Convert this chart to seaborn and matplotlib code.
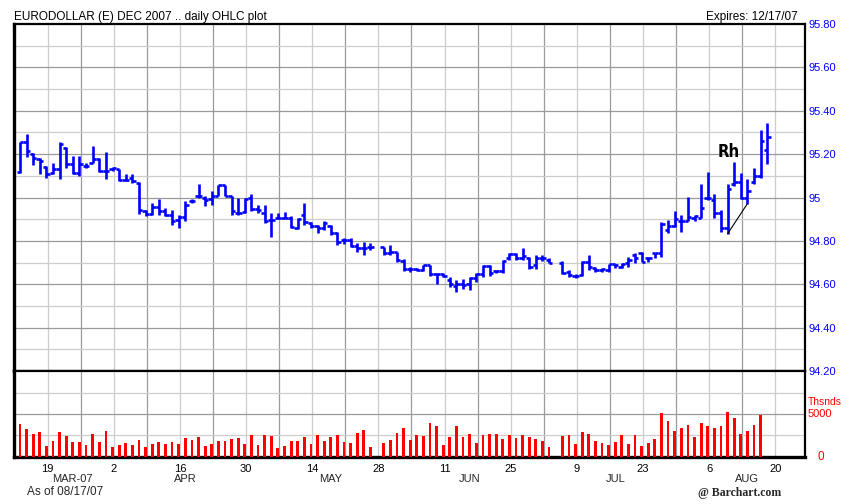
import numpy as np
import pandas as pd
import matplotlib
matplotlib.use("Agg")
import matplotlib.pyplot as plt
import seaborn as sns

# ---------------- data ----------------
first_day = "2007-03-13"
last_day = "2007-08-17"
holidays = ["2007-05-28", "2007-07-04"]
calendar_start = "2007-03-12"
calendar_end = "2007-08-31"

opens = [95.118, 95.255, 95.200, 95.177, 95.141, 95.115, 95.130, 95.228, 95.153, 95.112,
         95.146, 95.161, 95.177, 95.122, 95.130, 95.130, 95.079, 95.091, 95.068, 94.936,
         94.924, 94.957, 94.936, 94.921, 94.898, 94.910, 94.983, 95.006, 94.998, 94.991,
         95.006, 95.057, 95.006, 94.929, 94.932, 94.998, 94.947, 94.929, 94.898, 94.905,
         94.905, 94.905, 94.859, 94.921, 94.882, 94.867, 94.859, 94.870, 94.836, 94.805,
         94.805, 94.777, 94.766, 94.774,
         94.771, 94.743, 94.750, 94.709, 94.671, 94.671, 94.668, 94.688, 94.648, 94.645,
         94.620, 94.590, 94.600, 94.600, 94.630, 94.645, 94.683, 94.660, 94.660, 94.720,
         94.740, 94.720, 94.720, 94.690, 94.720, 94.710,
         94.700, 94.657, 94.636, 94.642, 94.703, 94.673, 94.665, 94.665, 94.692, 94.681,
         94.696, 94.735, 94.743, 94.719, 94.743, 94.743, 94.850, 94.870, 94.890, 94.890,
         94.905, 94.905, 95.000, 94.990, 94.930, 94.860, 95.060, 95.070, 95.000, 95.070,
         95.100, 95.220]
highs = [95.257, 95.293, 95.203, 95.184, 95.146, 95.158, 95.254, 95.231, 95.192, 95.192,
         95.161, 95.239, 95.180, 95.208, 95.141, 95.130, 95.107, 95.107, 95.071, 94.944,
         94.975, 94.991, 94.952, 94.944, 94.921, 94.983, 94.991, 95.060, 95.006, 95.029,
         95.057, 95.057, 95.006, 94.998, 94.998, 95.014, 94.967, 94.967, 94.929, 94.929,
         94.932, 94.913, 94.905, 94.975, 94.885, 94.874, 94.890, 94.874, 94.843, 94.812,
         94.812, 94.792, 94.797, 94.789,
         94.771, 94.781, 94.750, 94.715, 94.680, 94.675, 94.688, 94.688, 94.650, 94.650,
         94.634, 94.619, 94.622, 94.634, 94.650, 94.688, 94.688, 94.665, 94.712, 94.743,
         94.743, 94.766, 94.727, 94.735, 94.735, 94.720,
         94.707, 94.665, 94.649, 94.707, 94.735, 94.681, 94.676, 94.692, 94.692, 94.696,
         94.727, 94.742, 94.750, 94.727, 94.743, 94.885, 94.898, 94.940, 94.920, 95.003,
         94.920, 95.060, 95.118, 95.014, 94.944, 95.060, 95.164, 95.115, 95.084, 95.137,
         95.313, 95.344]
lows = [95.115, 95.189, 95.149, 95.107, 95.091, 95.107, 95.087, 95.138, 95.107, 95.099,
        95.138, 95.161, 95.118, 95.084, 95.122, 95.076, 95.076, 95.068, 94.924, 94.913,
        94.921, 94.921, 94.913, 94.874, 94.859, 94.890, 94.975, 94.998, 94.963, 94.967,
        95.006, 95.006, 94.921, 94.921, 94.929, 94.936, 94.929, 94.882, 94.820, 94.901,
        94.905, 94.859, 94.854, 94.874, 94.859, 94.836, 94.851, 94.828, 94.781, 94.786,
        94.774, 94.750, 94.735, 94.758,
        94.735, 94.735, 94.704, 94.660, 94.657, 94.660, 94.660, 94.640, 94.600, 94.634,
        94.588, 94.564, 94.580, 94.572, 94.610, 94.634, 94.640, 94.650, 94.650, 94.712,
        94.712, 94.712, 94.672, 94.672, 94.705, 94.700,
        94.645, 94.634, 94.628, 94.639, 94.665, 94.657, 94.657, 94.657, 94.673, 94.673,
        94.681, 94.696, 94.704, 94.704, 94.719, 94.727, 94.836, 94.864, 94.843, 94.890,
        94.890, 94.905, 94.988, 94.905, 94.843, 94.833, 95.053, 94.995, 94.972, 95.060,
        95.091, 95.153]
closes = [95.255, 95.216, 95.180, 95.169, 95.110, 95.130, 95.246, 95.153, 95.115, 95.153,
          95.146, 95.177, 95.122, 95.122, 95.138, 95.079, 95.079, 95.076, 94.944, 94.924,
          94.957, 94.936, 94.921, 94.890, 94.910, 94.967, 94.983, 95.006, 94.988, 95.006,
          95.057, 95.006, 94.936, 94.929, 94.994, 94.947, 94.944, 94.890, 94.898, 94.905,
          94.905, 94.864, 94.901, 94.885, 94.870, 94.859, 94.882, 94.836, 94.797, 94.805,
          94.777, 94.766, 94.766, 94.774,
          94.743, 94.750, 94.712, 94.671, 94.671, 94.668, 94.688, 94.648, 94.645, 94.638,
          94.600, 94.600, 94.595, 94.630, 94.645, 94.683, 94.650, 94.660, 94.705, 94.740,
          94.720, 94.730, 94.680, 94.720, 94.720, 94.700,
          94.650, 94.642, 94.640, 94.703, 94.678, 94.665, 94.670, 94.692, 94.688, 94.692,
          94.712, 94.719, 94.704, 94.719, 94.743, 94.880, 94.870, 94.900, 94.890, 94.910,
          94.915, 94.950, 95.000, 94.930, 94.860, 95.040, 95.070, 95.000, 95.030, 95.100,
          95.260, 95.280]
# volume (last session not yet reported)
volumes = [3850, 3260, 2670, 2910, 1260, 1850, 2910, 2440, 1730, 1730,
           1380, 2670, 1730, 3030, 1140, 1380, 1610, 1380, 1970, 1140,
           1490, 1730, 1490, 1730, 1490, 2200, 1970, 2320, 1260, 1490,
           1850, 1850, 2080, 2200, 1490, 2560, 1380, 2560, 2440, 1020,
           1260, 1850, 1850, 2320, 1490, 2560, 1850, 2320, 2560, 1730,
           1610, 2790, 3140, 1140,
           1610, 1970, 2790, 3380, 1970, 2560, 2440, 3970, 3620, 1380,
           2320, 3620, 2320, 2670, 1610, 2560, 2670, 2670, 2080, 2560,
           2200, 2560, 2320, 2080, 1850, 1140,
           2440, 2560, 1490, 2910, 2670, 1850, 1610, 1380, 1730, 2560,
           1490, 2560, 1260, 1610, 2080, 5150, 4200, 3030, 3380, 3730,
           2320, 3970, 3620, 3380, 3620, 5270, 4560, 2670, 3030, 3730,
           4910, np.nan]

price_ticks = [94.2, 94.4, 94.6, 94.8, 95.0, 95.2, 95.4, 95.6, 95.8]
price_tick_labels = ["94.20", "94.40", "94.60", "94.80", "95", "95.20", "95.40", "95.60", "95.80"]
day_tick_dates = ["2007-03-19", "2007-04-02", "2007-04-16", "2007-04-30", "2007-05-14",
                  "2007-05-28", "2007-06-11", "2007-06-25", "2007-07-09", "2007-07-23",
                  "2007-08-06", "2007-08-20"]
day_labels = ["19", "2", "16", "30", "14", "28", "11", "25", "9", "23", "6", "20"]
month_labels = ["MAR-07", "APR", "MAY", "JUN", "JUL", "AUG"]
month_label_dates = ["2007-03-23", "2007-04-17", "2007-05-17", "2007-06-15", "2007-07-17", "2007-08-14"]
trend_dates = ["2007-08-09", "2007-08-14"]

# ---------------- positions on a weekday axis ----------------
calendar = pd.bdate_range(calendar_start, calendar_end)
slot = pd.Series(np.arange(len(calendar), dtype=float), index=calendar)
days = pd.bdate_range(first_day, last_day)
days = days[~days.isin(pd.to_datetime(holidays))]
x = slot.loc[days].to_numpy()
o, h, l, c = map(np.asarray, (opens, highs, lows, closes))
v = np.asarray(volumes, dtype=float)

mondays = calendar[(calendar.weekday == 0) & (calendar >= pd.Timestamp("2007-03-19"))]
labeled = pd.to_datetime(day_tick_dates)
unlabeled = mondays[~mondays.isin(labeled)]

# ---------------- style ----------------
sns.set_style("white")
plt.rcParams["font.family"] = ["Liberation Sans", "DejaVu Sans"]

W, H = 864, 504
fig = plt.figure(figsize=(W / 100, H / 100), dpi=100, facecolor="white")
L, R = 14, 805
ax = fig.add_axes([L / W, 1 - 371 / H, (R - L) / W, 347 / H])
axv = fig.add_axes([L / W, 1 - 456.7 / H, (R - L) / W, 85.7 / H])

XMIN, XMAX = 0.1, 119.7
DARK, LIGHT = "#9a9a9a", "#cdcdcd"
BLUE, RED = "#0000ff", "#ff0000"

for a in (ax, axv):
    a.set_facecolor("white")
    a.set_xlim(XMIN, XMAX)
    for d in labeled:
        a.axvline(slot[d] + 0.2, color=LIGHT, lw=0.9, zorder=0)
    for d in unlabeled:
        a.axvline(slot[d] + 0.2, color=DARK, lw=0.9, zorder=0)
    for s in a.spines.values():
        s.set_visible(True)
        s.set_color("black")
    a.spines["left"].set_linewidth(2.4)
    a.spines["right"].set_linewidth(1.6)
    a.spines["top"].set_linewidth(1.6)
    a.spines["bottom"].set_linewidth(1.6)
axv.spines["bottom"].set_linewidth(2.4)

# price grid
for k, g in enumerate(np.round(np.arange(94.3, 95.75, 0.1), 2)):
    ax.axhline(g, color=DARK if k % 2 == 1 else LIGHT, lw=0.9, zorder=0)
ax.set_ylim(94.2, 95.8)

# OHLC bars
tick = 0.5
LW = 1.9
ax.vlines(x, l, h, color=BLUE, lw=LW, capstyle="butt", zorder=3)
ax.hlines(o, x - tick, x, color=BLUE, lw=LW, capstyle="butt", zorder=3)
ax.hlines(c, x, x + tick, color=BLUE, lw=LW, capstyle="butt", zorder=3)

# trend line between two lows
t_idx = [int(np.where(days == pd.Timestamp(d))[0][0]) for d in trend_dates]
ax.plot(x[t_idx], l[t_idx], color="black", lw=0.8, zorder=4)
ax.text(slot[pd.Timestamp(trend_dates[0])] + 0.1, 95.212, "Rh", ha="center", va="center",
        fontsize=12, fontweight="bold", family=["DejaVu Sans"], fontstretch="condensed",
        color="black", zorder=5)

ax.set_yticks(price_ticks)
ax.set_yticklabels(price_tick_labels)
ax.yaxis.tick_right()
ax.tick_params(axis="y", which="both", length=0, pad=2.5, labelsize=8, labelcolor=BLUE,
               right=True, left=False, labelright=True, labelleft=False)
ax.set_xticks([])
ax.set_xlabel("")
ax.set_ylabel("")

# volume
for k, g in enumerate([2500, 5000, 7500]):
    axv.axhline(g, color=DARK if g == 5000 else LIGHT, lw=0.9, zorder=0)
mask = ~np.isnan(v)
sns.barplot(x=x[mask], y=v[mask], native_scale=True, width=0.42, color=RED,
            saturation=1, errorbar=None, linewidth=0, ax=axv, zorder=3)
axv.set_xlim(XMIN, XMAX)
axv.set_ylim(0, 10100)
axv.set_yticks([])
axv.set_ylabel("")
axv.set_xlabel("")
axv.set_xticks([slot[d] + 0.2 for d in labeled])
axv.set_xticklabels(day_labels)
axv.tick_params(axis="x", length=0, pad=5, labelsize=8, labelcolor="black")

yfx = axv.get_yaxis_transform()
axv.annotate("5000", xy=(1, 5000), xycoords=yfx, xytext=(3, 0), textcoords="offset pixels",
             ha="left", va="center", color=RED, fontsize=8, annotation_clip=False)
axv.annotate("0", xy=(1, 0), xycoords=yfx, xytext=(15.5, 0), textcoords="offset pixels",
             ha="center", va="center", color=RED, fontsize=8.5, annotation_clip=False)
axv.annotate("Thsnds", xy=(1, 5000), xycoords=yfx, xytext=(3, 12), textcoords="offset pixels",
             ha="left", va="center", color=RED, fontsize=7.5, annotation_clip=False)

xfx = axv.get_xaxis_transform()
for lab, d in zip(month_labels, month_label_dates):
    axv.annotate(lab, xy=(slot[pd.Timestamp(d)], 0), xycoords=xfx, xytext=(0, -22),
                 textcoords="offset pixels", ha="center", va="center", fontsize=8,
                 annotation_clip=False)

fig.text(14 / W, 1 - 17 / H, "EURODOLLAR (E) DEC 2007 .. daily OHLC plot",
         ha="left", va="center", fontsize=8.5, color="black")
fig.text(798 / W, 1 - 17 / H, "Expires: 12/17/07", ha="right", va="center",
         fontsize=8.5, color="black")
fig.text(27 / W, 1 - 492 / H, "As of 08/17/07", ha="left", va="center", fontsize=8.5)
fig.text(698 / W, 1 - 493 / H, "@ Barchart.com", ha="left", va="center", fontsize=8.5,
         fontweight="bold", family=["Liberation Serif", "DejaVu Serif"])

fig.savefig("out.png", dpi=100, facecolor="white")
